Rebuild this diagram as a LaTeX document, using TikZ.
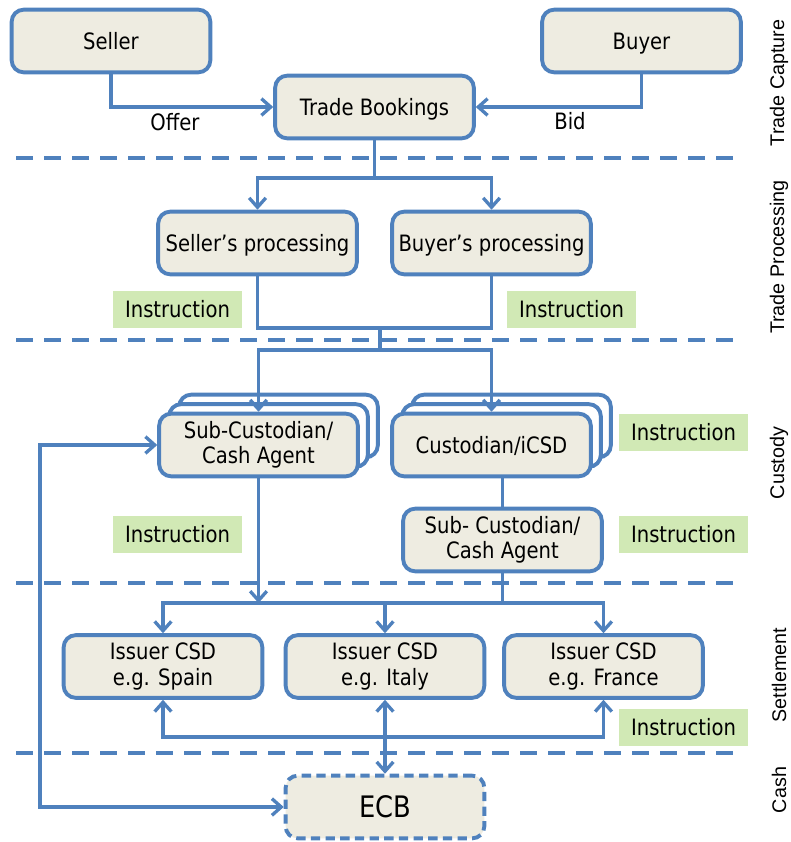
\documentclass[tikz,border=0pt]{standalone}
\usepackage{fontspec}
\setmainfont{DejaVu Sans}[FakeStretch=0.87]
\newfontfamily\sidefont{Liberation Sans}
\usetikzlibrary{arrows.meta}
\definecolor{lineblue}{RGB}{79,129,189}
\definecolor{boxfill}{RGB}{238,236,225}
\definecolor{instgreen}{RGB}{209,233,181}
\tikzset{
  box/.style={draw=lineblue, line width=2.9pt, fill=boxfill, rounded corners=9pt,
    minimum width=149pt, minimum height=47pt, align=center, inner sep=2pt,
    font=\fontsize{16.9}{19}\selectfont},
  one/.style={text height=12.3pt, text depth=0pt},
  ghostbox/.style={draw=lineblue, line width=2.9pt, fill=white, rounded corners=9pt,
    minimum width=149pt, minimum height=47pt},
  ecbbox/.style={box, dash pattern=on 7pt off 4pt, font=\fontsize{22.2}{24}\selectfont},
  inst/.style={fill=instgreen, minimum width=96.75pt, minimum height=27.75pt, inner sep=0pt,
    font=\fontsize{16.9}{19}\selectfont},
  conn/.style={draw=lineblue, line width=2.5pt},
  arr/.style={conn, -{Straight Barb[length=7pt,width=12.5pt]}},
  arrboth/.style={conn, {Straight Barb[length=7pt,width=12.5pt]}-{Straight Barb[length=7pt,width=12.5pt]}},
  sep/.style={draw=lineblue, line width=3pt, dash pattern=on 12.75pt off 8.25pt},
  lbl/.style={font=\fontsize{16.9}{19}\selectfont, inner sep=0pt},
  side/.style={rotate=90, font=\sidefont\fontsize{14.8}{16}\selectfont, inner sep=0pt}
}
\begin{document}
\begin{tikzpicture}[x=0.75pt,y=-0.75pt]
\useasboundingbox (0,0) rectangle (791,842);

% separators
\draw[sep] (16,158) -- (742,158);
\draw[sep] (16,340) -- (742,340);
\draw[sep] (16,583) -- (742,583);
\draw[sep] (16,753) -- (742,753);

% side labels
\node[side] (lcap) at (779,83) {Trade Capture};
\node[side] (lproc) at (779,257) {Trade Processing};
\node[side] (lcus) at (779,463) {Custody};
\node[side] (lset) at (779,675) {Settlement};
\node[side] (lcash) at (779,790) {Cash};

% boxes
\node[box,one] (seller) at (111,41) {Seller};
\node[box,one] (buyer) at (641.5,41) {Buyer};
\node[box,one] (tb) at (374.5,107) {Trade Bookings};
\node[box,one] (sp) at (257.5,243) {Seller’s processing};
\node[box,one] (bp) at (491.5,243) {Buyer’s processing};

\node[ghostbox] (sc1c) at (278.5,426) {};
\node[ghostbox] (sc1b) at (268.5,435.5) {};
\node[box] (sc1) at (258.5,445) {Sub-Custodian/\\Cash Agent};

\node[ghostbox] (cic) at (511.5,426) {};
\node[ghostbox] (cib) at (501.5,435.5) {};
\node[box,one] (ci) at (491.5,445) {Custodian/iCSD};

\node[box] (sc2) at (502.5,540) {Sub- Custodian/\\Cash Agent};

\node[box] (spain) at (163,666.5) {Issuer CSD\\e.g. Spain};
\node[box] (italy) at (385,666.5) {Issuer CSD\\e.g. Italy};
\node[box] (france) at (603.5,666.5) {Issuer CSD\\e.g. France};
\node[ecbbox] (ecb) at (385,807) {ECB};

% instruction labels
\node[inst] (i1) at (177.5,309) {Instruction};
\node[inst] (i2) at (571.5,309) {Instruction};
\node[inst] (i3) at (683.5,432) {Instruction};
\node[inst] (i4) at (177.5,534) {Instruction};
\node[inst] (i5) at (683.5,534) {Instruction};
\node[inst] (i6) at (683.5,727) {Instruction};

% trade capture
\draw[arr] (seller.south) |- (tb.west);
\draw[arr] (buyer.south) |- (tb.east);
\node[lbl] (offer) at (175,122) {Offer};
\node[lbl] (bid) at (570,121) {Bid};

% trade processing
\coordinate (j1) at (374.5,178);
\draw[conn] (tb.south) -- (j1);
\draw[arr] (j1) -| (sp.north);
\draw[arr] (j1) -| (bp.north);

\coordinate (j2) at (380,328);
\coordinate (j3) at (380,350);
\draw[conn] (sp.south) |- (j2);
\draw[conn] (bp.south) |- (j2);
\draw[conn] (j2) -- (j3);
\draw[arr] (j3) -| (sc1.north);
\draw[arr] (j3) -| (ci.north);

% custody
\draw[conn] (sc2.north |- ci.south) -- (sc2.north);
\coordinate (j4) at (502.5,603);
\draw[conn] (sc2.south) -- (j4);
\draw[arr] (sc1.south) -- (sc1.south |- j4);
\draw[arr] (j4) -| (spain.north);
\draw[arr] (j4) -| (france.north);
\draw[arr] (italy.north |- j4) -- (italy.north);

% settlement
\coordinate (j5) at (385,737);
\draw[arr] (j5) -| (spain.south);
\draw[arr] (j5) -| (france.south);
\draw[arrboth] (italy.south) -- (ecb.north);

% cash loop
\coordinate (l1) at (40,445);
\coordinate (l2) at (40,807);
\draw[arrboth] (sc1.west) -- (l1) -- (l2) -- (ecb.west);
\end{tikzpicture}
\end{document}
